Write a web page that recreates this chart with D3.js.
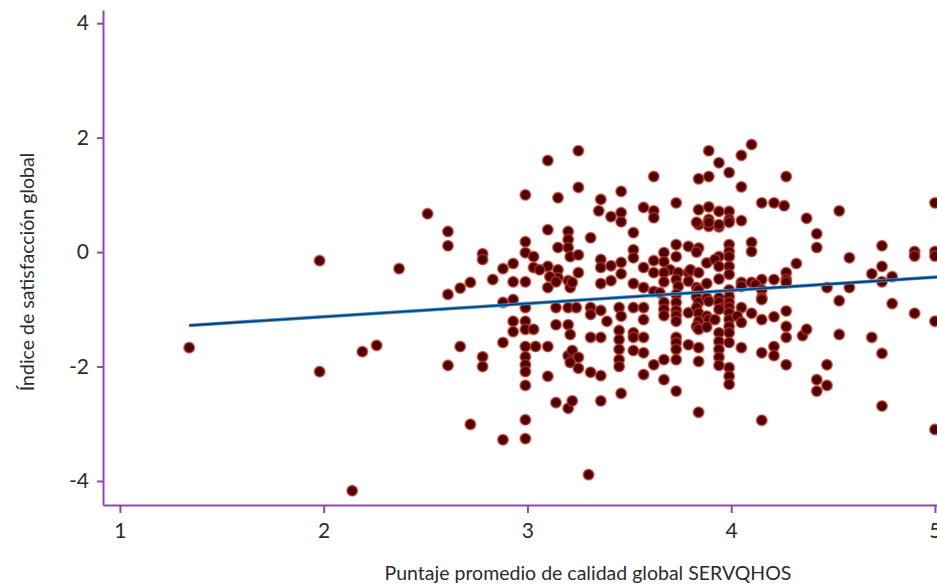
<!DOCTYPE html>
<html>
<head>
<meta charset="utf-8">
<script src="https://cdn.jsdelivr.net/npm/d3@7"></script>
<style>
  html, body { margin: 0; padding: 0; background: #fff; }
  svg text { font-family: Lato, "Open Sans", sans-serif; fill: #2b2b2b; }
</style>
</head>
<body>
<div id="chart"></div>
<script>
// tick values
const xTicks = [1, 2, 3, 4, 5]
const yTicks = [-4, -2, 0, 2, 4]

// axis extents
const xExtent = [0.917, 5.01]
const yExtent = [-4.42, 4.23]

// fitted line (intercept, slope) and its x span
const fitIntercept = -1.59
const fitSlope = 0.23
const fitRange = [1.34, 5.01]

// [SERVQHOS score, satisfaction index]
const points = [
  [1.34,-1.67],[1.98,-2.09],[1.98,-0.15],[2.14,-4.17],[2.19,-1.74],[2.26,-1.63],[2.37,-0.29],
  [2.51,0.67],[2.61,0.36],[2.61,0.11],[2.61,-0.74],[2.61,-1.98],[2.67,-0.63],[2.72,-0.53],[2.67,-1.65],[2.72,-3.01],
  [2.78,-0.03],[2.78,-0.13],[2.78,-1.83],[2.78,-2.00],[2.83,-0.48],[2.88,-3.28],
  [2.88,-0.29],[2.93,-0.20],[2.93,-0.52],[2.99,-0.52],[2.99,0.18],[2.99,-0.01],[3.03,-0.08],[3.03,-0.27],
  [3.10,0.39],[3.10,-0.25],[3.10,-0.62],[3.15,0.08],[3.15,-0.31],[3.15,-0.45],[3.11,-0.43],[3.06,-0.31],
  [3.20,0.36],[3.20,0.22],[3.20,0.08],[3.21,-0.08],[3.20,-0.50],[3.21,-0.62],[3.25,-0.05],[3.25,-0.36],[3.22,-0.53],[3.14,-0.52],
  [3.31,0.25],[3.36,-0.13],[3.36,-0.27],[3.36,-0.55],[3.41,-0.24],[3.41,-0.50],[3.46,-0.18],[3.46,-0.38],
  [3.52,0.34],[3.52,0.04],[3.52,-0.10],[3.52,-0.55],[3.57,-0.27],[3.57,-0.62],[3.62,-0.15],[3.62,-0.36],[3.62,-0.69],[3.65,-0.71],
  [3.67,-0.01],[3.67,-0.17],[3.70,-0.31],[3.67,-0.36],[3.67,-0.52],[3.67,-0.88],[3.67,-1.00],[3.67,-1.11],[3.67,-1.88],[3.67,-2.23],
  [3.73,0.13],[3.73,-0.08],[3.74,-0.36],[3.73,-0.48],[3.74,-0.60],[3.73,-0.74],[3.73,-0.88],[3.73,-1.02],[3.73,-1.11],[3.73,-1.21],
  [3.73,-1.49],[3.73,-1.58],[3.73,-1.70],[3.73,-1.88],[3.73,-2.43],
  [2.88,-0.88],[2.93,-0.83],[2.99,-0.97],[2.93,-1.21],[2.93,-1.39],[2.99,-1.21],[2.99,-1.35],[3.03,-1.35],
  [3.14,-0.97],[3.20,-0.97],[3.24,-0.97],[3.14,-1.27],[3.20,-1.27],[3.21,-1.44],
  [3.31,-0.97],[3.36,-1.02],[3.31,-1.09],[3.39,-1.21],[3.45,-0.97],[3.52,-0.97],[3.57,-0.97],[3.46,-1.12],[3.57,-1.18],
  [2.88,-1.58],[2.99,-1.65],[2.99,-1.83],[2.99,-1.97],[2.99,-2.09],[3.04,-1.65],[3.10,-1.65],[3.10,-2.17],[2.99,-2.33],
  [3.20,-1.81],[3.22,-1.72],[3.25,-1.84],[3.21,-1.93],[3.25,-2.03],[3.31,-2.10],[3.36,-2.16],
  [3.31,-1.49],[3.36,-1.49],[3.45,-1.37],[3.45,-1.53],[3.45,-1.70],[3.45,-1.88],[3.45,-2.00],
  [3.52,-1.41],[3.52,-1.49],[3.57,-1.49],[3.52,-1.72],[3.57,-1.76],[3.57,-2.14],[3.62,-1.97],
  [3.14,-2.63],[3.20,-2.73],[3.22,-2.60],[3.36,-2.60],[3.46,-2.47],[2.99,-2.93],[2.99,-3.26],[3.30,-3.89],
  [3.25,1.77],[3.10,1.60],[3.25,1.13],[2.99,1.00],[3.15,0.95],[3.46,1.06],[3.73,0.86],[3.36,0.92],[3.35,0.72],
  [3.41,0.62],[3.46,0.69],[3.46,0.53],[3.57,0.78],[3.62,0.72],[3.62,0.60],[3.62,1.32],
  [3.89,1.77],[4.10,1.88],[4.05,1.69],[3.94,1.56],[3.99,1.39],[3.84,1.28],[3.89,1.32],[4.05,1.14],[4.27,1.32],
  [3.84,0.74],[3.89,0.79],[3.94,0.71],[3.99,0.71],[4.05,0.55],[3.84,0.48],[3.89,0.57],[3.89,0.45],[3.94,0.44],[3.99,0.57],
  [4.15,0.86],[4.21,0.86],[4.26,0.81],[4.37,0.59],[4.42,0.32],[4.42,0.08],[4.53,0.72],[5.00,0.86],
  [4.74,0.11],[4.74,-0.25],[4.58,-0.10],[4.69,-0.38],[4.74,-0.52],[4.79,-0.43],[4.90,0.01],[4.90,-0.07],[5.00,0.01],[5.00,-0.07],
  [4.32,-0.20],[4.47,-0.62],[4.58,-0.62],[4.53,-0.85],[4.79,-0.90],[4.90,-1.07],[5.00,-1.21],
  [4.47,-1.97],[4.42,-2.23],[4.42,-2.43],[4.47,-2.33],[4.53,-1.44],[4.69,-1.49],[4.74,-1.77],[4.74,-2.69],[5.00,-3.10],
  [4.15,-2.94],[3.84,-2.80],
  [3.79,0.10],[3.79,-0.36],[3.79,-0.51],[3.79,-1.06],[3.79,-1.62],
  [3.83,0.52],[3.84,0.07],[3.83,0.00],[3.80,-0.31],[3.84,-0.36],[3.83,-0.62],[3.84,-0.66],[3.83,-0.78],[3.84,-0.88],
  [3.83,-0.97],[3.84,-1.07],[3.84,-1.21],[3.83,-1.30],[3.84,-1.35],[3.84,-1.67],[3.84,-1.91],
  [3.89,0.52],[3.88,-0.19],[3.88,-0.55],[3.88,-0.80],[3.89,-0.86],[3.88,-1.12],[3.89,-1.18],[3.88,-1.31],
  [3.94,0.48],[3.94,-0.08],[3.92,-0.13],[3.94,-0.25],[3.94,-0.47],[3.94,-0.80],[3.94,-0.88],[3.96,-0.97],[3.94,-1.00],
  [3.92,-1.18],[3.94,-1.41],[3.94,-1.56],[3.94,-1.70],[3.94,-1.84],[3.94,-1.98],
  [3.99,0.52],[3.99,0.13],[3.99,0.01],[3.99,-0.08],[3.99,-0.25],[3.99,-0.39],[3.99,-0.66],[3.99,-0.78],[3.99,-0.88],
  [3.99,-0.97],[3.99,-1.06],[3.99,-1.18],[3.99,-1.30],[3.99,-1.41],[3.99,-1.58],[3.99,-2.02],[3.99,-2.17],[3.99,-2.31],
  [4.05,-0.53],[4.05,-0.60],[4.05,-0.97],[4.03,-1.12],[4.05,-1.23],[4.05,-1.67],
  [4.10,0.17],[4.10,0.01],[4.10,-0.53],[4.10,-1.07],
  [4.15,-0.48],[4.12,-0.57],[4.15,-0.66],[4.15,-0.80],[4.15,-0.83],[4.15,-1.18],[4.15,-1.76],
  [4.21,-0.48],[4.21,-1.13],[4.21,-1.65],[4.21,-1.81],
  [4.27,-0.36],[4.27,-0.48],[4.27,-0.53],[4.27,-1.03],[4.27,-1.30],[4.27,-1.49],[4.27,-1.97],
  [4.35,-1.46],[4.37,-1.35]
]

const width = 937
const height = 587
const axisColor = '#9244b0'

const svg = d3.select('#chart')
  .append('svg')
  .attr('width', width)
  .attr('height', height)

const x = d3.scaleLinear().domain(xExtent).range([103, 937])
const y = d3.scaleLinear().domain(yExtent).range([505, 10])

// points
svg.append('g')
  .selectAll('circle')
  .data(points)
  .join('circle')
  .attr('cx', d => x(d[0]))
  .attr('cy', d => y(d[1]))
  .attr('r', 5.2)
  .attr('fill', '#4e0404')
  .attr('stroke', '#c0392b')
  .attr('stroke-opacity', 0.65)
  .attr('stroke-width', 1.8)

// regression line, light edge then dark core
const fit = fitRange.map(v => [v, fitIntercept + fitSlope * v])
const line = d3.line().x(d => x(d[0])).y(d => y(d[1]))
svg.append('path')
  .attr('d', line(fit))
  .attr('fill', 'none')
  .attr('stroke', '#3d8fd1')
  .attr('stroke-width', 3.5)
svg.append('path')
  .attr('d', line(fit))
  .attr('fill', 'none')
  .attr('stroke', '#123a66')
  .attr('stroke-width', 1.6)

// axes
const xAxis = svg.append('g')
  .attr('transform', 'translate(0,505)')
  .call(d3.axisBottom(x).tickValues(xTicks).tickSize(8).tickSizeOuter(0).tickPadding(10).tickFormat(d => String(d)))
const yAxis = svg.append('g')
  .attr('transform', 'translate(103,0)')
  .call(d3.axisLeft(y).tickValues(yTicks).tickSize(6).tickSizeOuter(0).tickPadding(8).tickFormat(d => String(d)))

for (const g of [xAxis, yAxis]) {
  g.select('.domain').attr('stroke', axisColor).attr('stroke-width', 2)
  g.selectAll('.tick line').attr('stroke', axisColor).attr('stroke-width', 2)
  g.selectAll('.tick text')
    .attr('font-size', 21)
    .attr('font-family', 'Lato, "Open Sans", sans-serif')
    .attr('fill', '#2b2b2b')
}

// titles
svg.append('text')
  .attr('x', 588)
  .attr('y', 580)
  .attr('text-anchor', 'middle')
  .attr('font-size', 19.5)
  .text('Puntaje promedio de calidad global SERVQHOS')

svg.append('text')
  .attr('transform', 'translate(34,272) rotate(-90)')
  .attr('text-anchor', 'middle')
  .attr('font-size', 19.5)
  .text('Índice de satisfacción global')
</script>
</body>
</html>
